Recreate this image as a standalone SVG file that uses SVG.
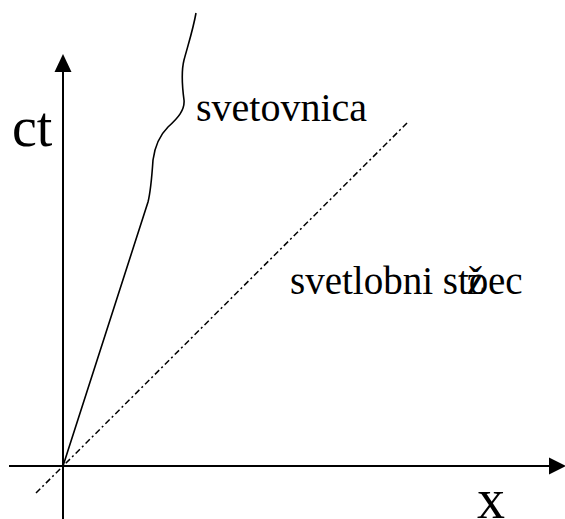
<svg xmlns="http://www.w3.org/2000/svg" width="565" height="519" viewBox="0 0 565 519">
<style>
.ax{stroke:#000;stroke-width:2;fill:none}
.lbl{font-family:"Liberation Serif","Times New Roman",serif;fill:#000}
</style>
<rect width="565" height="519" fill="#fff"/>
<g id="connectors">
<line class="ax" x1="63" y1="519" x2="63" y2="70"/>
<polygon points="63,54 54.5,72 71.5,72" fill="#000"/>
<line class="ax" x1="9" y1="466" x2="551" y2="466"/>
<polygon points="566,466 549,457.5 549,474.5" fill="#000"/>
<line x1="36" y1="493" x2="408" y2="122" stroke="#000" stroke-width="1.5" stroke-dasharray="6 3 2 3"/>
<path d="M196,13 C193,30 188,45 184,60 C181,72 182,85 184,100 C185,110 178,118 168,127 C160,135 155,145 153,160 C152,175 151,190 148,202 L63,466" fill="none" stroke="#000" stroke-width="1.6"/>
</g>
<g id="label-ct"><text class="lbl" x="12" y="146" font-size="56">ct</text></g>
<g id="label-x"><text class="lbl" x="477" y="518" font-size="56">x</text></g>
<g id="label-svetovnica"><text class="lbl" x="196" y="121" font-size="40">svetovnica</text></g>
<g id="label-stozec"><text class="lbl" x="290" y="294" font-size="39">svetlobni sto<tspan dx="-0.55em">ž</tspan><tspan dx="0.1em">ec</tspan></text></g>
</svg>
